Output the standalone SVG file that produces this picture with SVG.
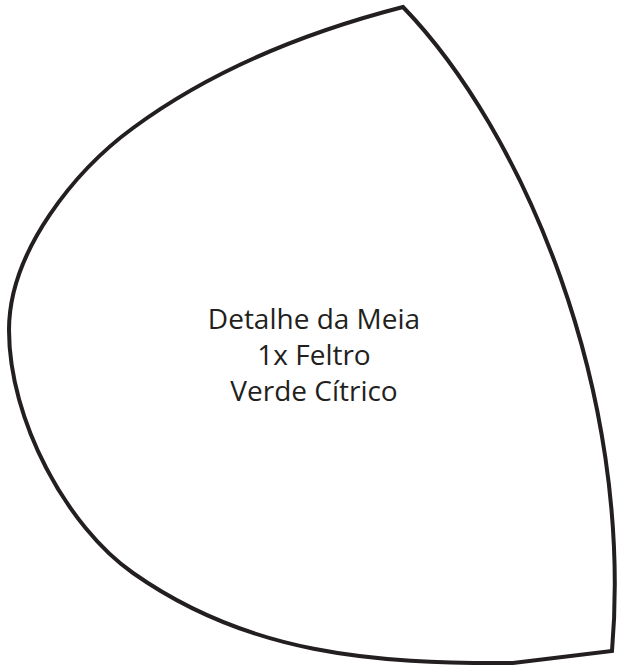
<svg xmlns="http://www.w3.org/2000/svg" width="621" height="670" viewBox="0 0 621 670">
<style>
.outline{fill:#fff;stroke:#231f20;stroke-width:4;stroke-linejoin:miter}
.lbl{font-family:"Open Sans","Liberation Sans",sans-serif;font-size:28px;fill:#231f20;text-anchor:middle}
</style>
<rect width="621" height="670" fill="#fff"/>
<g id="piece">
<path class="outline" d="M403,7 C306,32 213,69 133,128 C77,169 9,250 9,330 C9,420 67,527 133,573 C248,654 373,664 513,663 L612,651 C634,390 522,130 403,7 Z"/>
</g>
<g id="label">
<text class="lbl" x="314" y="329">Detalhe da Meia</text>
<text class="lbl" x="314" y="365">1x Feltro</text>
<text class="lbl" x="314" y="401">Verde Cítrico</text>
</g>
</svg>
